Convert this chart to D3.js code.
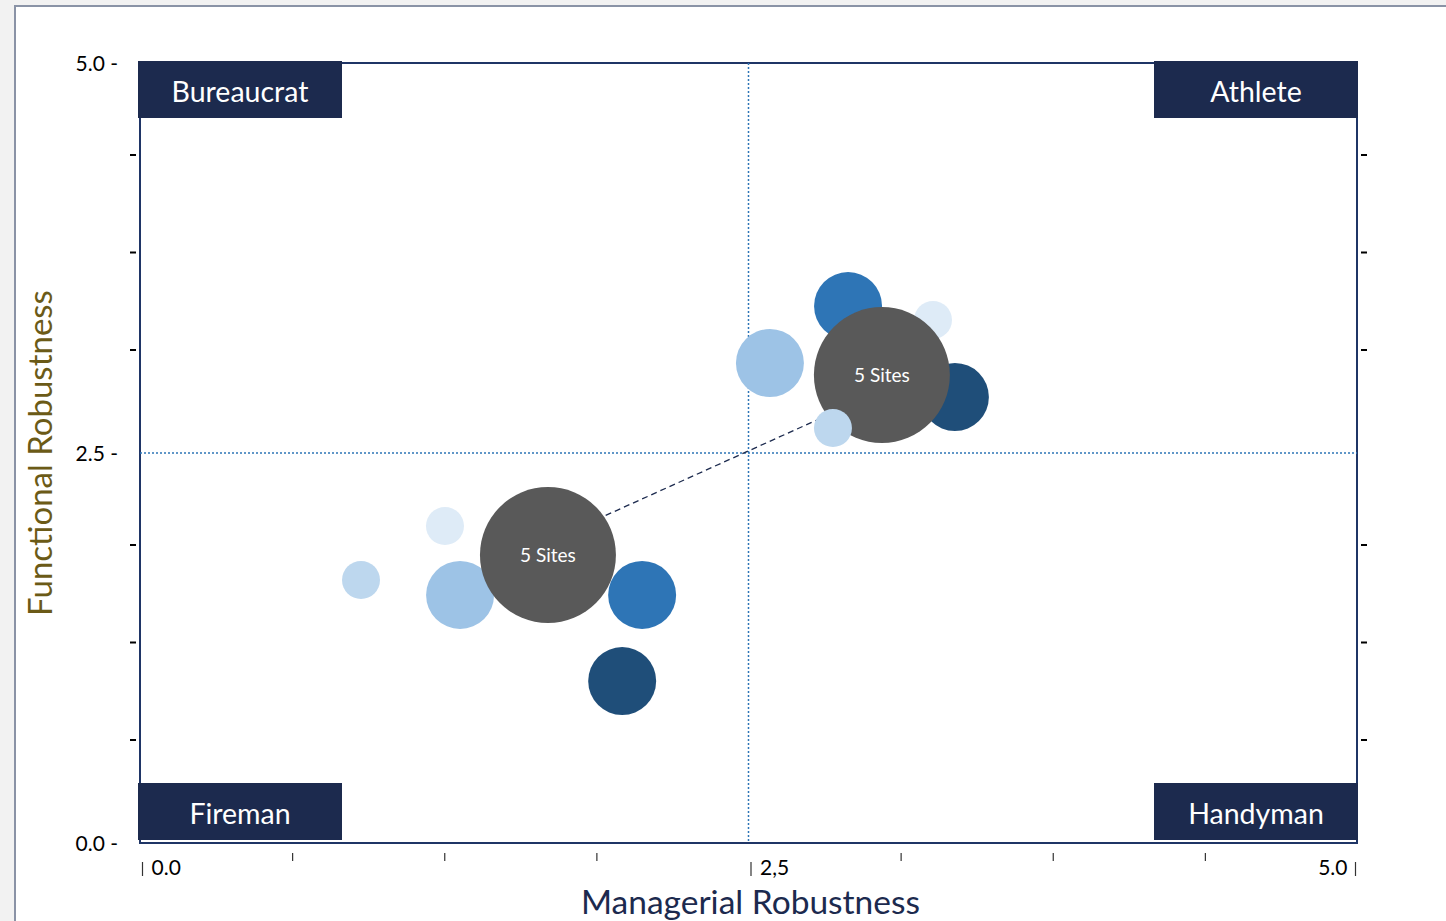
<!DOCTYPE html>
<html><head><meta charset="utf-8">
<script src="https://cdn.jsdelivr.net/npm/d3@7"></script>
<style>
html,body{margin:0;padding:0;background:#f2f2f2;}
svg{display:block;}
text{font-family:Lato,"Open Sans",sans-serif;}
</style></head>
<body>
<svg id="chart" width="1446" height="921"></svg>
<script>
// ---- data ----
const tickValues = [0, 0.625, 1.25, 1.875, 2.5, 3.125, 3.75, 4.375, 5];
const xTickLabels = ["0.0", "", "", "", "2,5", "", "", "", "5.0"];
const yTickLabels = ["0.0", "", "", "", "2.5", "", "", "", "5.0"];
const quadrantNames = ["Bureaucrat", "Athlete", "Fireman", "Handyman"];
const quadrantCorners = [[0, 5], [5, 5], [0, 0], [5, 0]];
const midValue = 2.5;
// bubbles (draw order)
const bubbleX = [1.253, 0.908, 1.315, 1.676, 2.063, 1.981, 2.909, 3.258, 3.348, 2.588, 3.048, 2.847];
const bubbleY = [2.032, 1.686, 1.590, 1.846, 1.590, 1.038, 3.442, 3.353, 2.859, 3.077, 3.000, 2.660];
const bubbleSize = [1, 1, 3.2, 12.8, 3.2, 3.2, 3.2, 1, 3.2, 3.2, 12.8, 1];
const bubbleCategory = ["c1", "c2", "c3", "total", "c4", "c5", "c4", "c1", "c5", "c3", "total", "c2"];
const bubbleLabel = ["", "", "", "5 Sites", "", "", "", "", "", "", "5 Sites", ""];
const trendX = [1.726, 2.999];
const trendY = [1.968, 2.865];

// ---- chart ----
const svg = d3.select("#chart");
const W = 1446, H = 921;
const pL = 140, pR = 1357, pT = 63, pB = 843;
const x = d3.scaleLinear().domain([0, 5]).range([pL, pR]);
const y = d3.scaleLinear().domain([0, 5]).range([pB, pT]);
const r = d3.scaleSqrt().domain([0, 1]).range([0, 19]);
const color = d3.scaleOrdinal()
  .domain(["c1", "c2", "c3", "c4", "c5", "total"])
  .range(["#deebf7", "#bdd7ee", "#9dc3e6", "#2e75b6", "#1f4e79", "#595959"]);
const navy = "#1c2a4e";

// card
svg.append("rect").attr("x", 15).attr("y", 6).attr("width", W).attr("height", H)
  .attr("fill", "#ffffff").attr("stroke", "#8a93a6").attr("stroke-width", 2);

// plot frame
svg.append("rect").attr("x", pL).attr("y", pT).attr("width", pR - pL).attr("height", pB - pT)
  .attr("fill", "none").attr("stroke", "#1f3566").attr("stroke-width", 2);

// mid dotted lines
svg.append("line").attr("x1", x(midValue)).attr("x2", x(midValue)).attr("y1", y(5)).attr("y2", y(0))
  .attr("stroke", "#2e75b6").attr("stroke-width", 1.5).attr("stroke-dasharray", "2,2");
svg.append("line").attr("x1", x(0)).attr("x2", x(5)).attr("y1", y(midValue)).attr("y2", y(midValue))
  .attr("stroke", "#2e75b6").attr("stroke-width", 1.5).attr("stroke-dasharray", "2,2");

// y axis ticks (left)
const yAxisG = svg.append("g").attr("transform", `translate(${pL},0)`)
  .call(d3.axisLeft(y).tickValues(tickValues).tickSize(0).tickFormat((d, i) => yTickLabels[i] ? yTickLabels[i] + " -" : ""));
yAxisG.select(".domain").remove();
yAxisG.selectAll("text")
  .attr("font-size", 21).attr("fill", "#000")
  .attr("x", -22).attr("dy", "0.36em");
yAxisG.selectAll(".tick").filter((d, i) => !yTickLabels[i])
  .append("line").attr("x1", -10).attr("x2", -4).attr("y1", -6).attr("y2", -6)
  .attr("stroke", "#000").attr("stroke-width", 2);

// y axis ticks (right)
const yAxisR = svg.append("g").attr("transform", `translate(${pR},0)`)
  .call(d3.axisRight(y).tickValues(tickValues.filter((d, i) => !yTickLabels[i])).tickSize(0).tickFormat(""));
yAxisR.select(".domain").remove();
yAxisR.selectAll(".tick").append("line").attr("x1", 4).attr("x2", 10).attr("y1", -6).attr("y2", -6)
  .attr("stroke", "#000").attr("stroke-width", 2);

// x axis ticks
const xAxisG = svg.append("g").attr("transform", `translate(0,${pB})`)
  .call(d3.axisBottom(x).tickValues(tickValues).tickSize(0).tickFormat(""));
xAxisG.select(".domain").remove();
xAxisG.selectAll(".tick").each(function(d, i) {
  const g = d3.select(this);
  const lab = xTickLabels[i];
  const dx = i === 0 ? 2 : (i === tickValues.length - 1 ? -2 : (lab ? 2 : 0));
  g.append("line").attr("x1", dx).attr("x2", dx)
    .attr("y1", lab ? 19 : 10).attr("y2", lab ? 33 : 18)
    .attr("stroke", "#333").attr("stroke-width", 1.2);
  if (lab) {
    g.append("text").text(lab)
      .attr("x", i === tickValues.length - 1 ? dx - 8 : dx + 9)
      .attr("y", 32)
      .attr("text-anchor", i === tickValues.length - 1 ? "end" : "start")
      .attr("font-size", 21).attr("fill", "#000");
  }
});

// trend line
svg.append("line")
  .attr("x1", x(trendX[0])).attr("y1", y(trendY[0]))
  .attr("x2", x(trendX[1])).attr("y2", y(trendY[1]))
  .attr("stroke", navy).attr("stroke-width", 1.3).attr("stroke-dasharray", "6,4");

// bubbles
const bubbles = bubbleX.map((bx, i) => ({x: bx, y: bubbleY[i], s: bubbleSize[i], c: bubbleCategory[i], l: bubbleLabel[i]}));
const bg = svg.append("g");
bg.selectAll("circle").data(bubbles).join("circle")
  .attr("cx", d => x(d.x)).attr("cy", d => y(d.y)).attr("r", d => r(d.s))
  .attr("fill", d => color(d.c));
bg.selectAll("text").data(bubbles.filter(d => d.l)).join("text")
  .attr("x", d => x(d.x)).attr("y", d => y(d.y)).attr("dy", "0.35em")
  .attr("text-anchor", "middle").attr("fill", "#fff").attr("font-size", 19)
  .text(d => d.l);
bg.selectAll("circle").filter((d, i) => i === bubbles.length - 1).raise();

// quadrant boxes
const boxW = 204, boxH = 57;
quadrantNames.forEach((name, i) => {
  const [qx, qy] = quadrantCorners[i];
  const bx = qx === 0 ? x(qx) - 2 : x(qx) - boxW + 1;
  const by = qy === 5 ? y(qy) - 2 : y(qy) - boxH - 3;
  svg.append("rect").attr("x", bx).attr("y", by).attr("width", boxW).attr("height", boxH).attr("fill", navy);
  svg.append("text").attr("x", bx + boxW / 2).attr("y", by + boxH / 2 + 2).attr("dy", "0.36em")
    .attr("text-anchor", "middle").attr("fill", "#fff").attr("font-size", 28.5).text(name);
});

// axis titles
svg.append("text").attr("x", (pL + pR) / 2 + 2).attr("y", 914)
  .attr("text-anchor", "middle").attr("fill", navy).attr("font-size", 33.5)
  .text("Managerial Robustness");
svg.append("text").attr("transform", `translate(52,${(pT + pB) / 2}) rotate(-90)`)
  .attr("text-anchor", "middle").attr("fill", "#6b5a17").attr("font-size", 33)
  .text("Functional Robustness");
</script>
</body></html>
